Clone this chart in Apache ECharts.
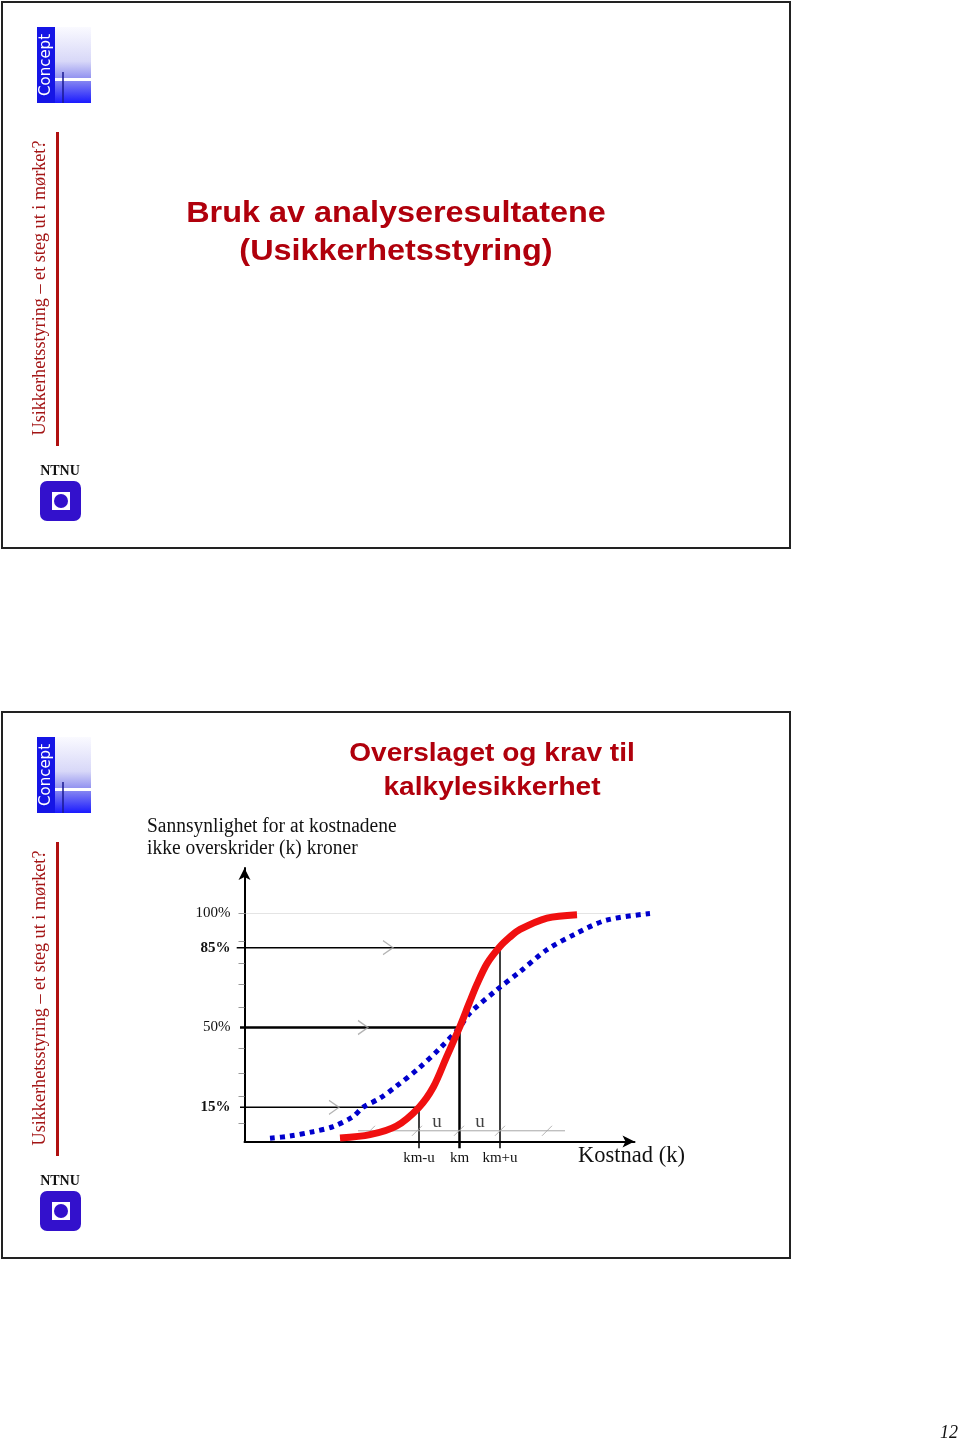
<!DOCTYPE html>
<html>
<head>
<meta charset="utf-8">
<script src="https://cdn.jsdelivr.net/npm/echarts@6/dist/echarts.min.js"></script>
<style>
html,body{margin:0;padding:0;background:#fff;}
#chart{width:960px;height:1442px;}
</style>
</head>
<body>
<div id="chart"></div>
<script>
// ---------- data ----------
const slide1Title = 'Bruk av analyseresultatene\n(Usikkerhetsstyring)';
const slide2Title = 'Overslaget og krav til\nkalkylesikkerhet';
const sideText = 'Usikkerhetsstyring – et steg ut i mørket?';
const yCaption = 'Sannsynlighet for at kostnadene\nikke overskrider (k) kroner';
const xName = 'Kostnad (k)';
const pageNumber = '12';

// probability (%) tick labels
const yLabelValues = [15, 50, 85, 100];
const yBoldValues = [15, 85];
const yMinorTicks = [8, 20, 30, 41, 59, 69, 78, 88, 100];

// cost axis markers (arbitrary cost units): km-u, km, km+u
const xMarkValues = [17.45, 21.5, 25.55];
const xMarkLabels = ['km-u', 'km', 'km+u'];

// narrow distribution (red) – cumulative probability %
const redX = [9.55, 12.55, 15.2, 17.45, 18.9, 20.2, 21.5, 22.5, 23.25, 24.25, 25.55, 26.5, 27.55, 30.25, 33.25];
const redY = [1.5, 3, 6.8, 15, 24, 37, 50, 61, 69, 78, 85.5, 89.5, 93, 98, 99.5];

// wide distribution (blue dotted) – cumulative probability %
const blueX = [2.55, 4.55, 6.85, 8.85, 10.85, 11.85, 13.55, 15.2, 17.4, 19.55, 21.5, 22.55, 25.2, 27.55, 30.2, 33.2, 36.2, 40.55];
const blueY = [1.4, 2.4, 4.3, 6.5, 10.9, 15, 19, 24.3, 32, 40.9, 50, 56.4, 66.4, 74.5, 84, 91.3, 97.1, 100];

// guide lines: level (%) and cost where they meet the red curve
const guideLevels = [85, 50, 15];
const guideCosts = [25.55, 21.5, 17.45];
const guideStartX = [-0.78, -0.45, -0.45];
const guideWidths = [1.5, 2.5, 1.5];
const chevronX = [14.35, 11.85, 8.95];

// u dimension line
const dimLevel = 4.7;
const dimStart = 11.35, dimEnd = 32.05;
const dimSlashX = [12.55, 17.25, 21.45, 25.55, 30.25];
const uLabelX = [19.25, 23.55];
const uLabelY = 8.6;

const topLineEnd = 40.55;

// ---------- build ----------
const chart = echarts.init(document.getElementById('chart'), null, {renderer: 'canvas'});
const serif = '"Liberation Serif", "Times New Roman", serif';
const sans = '"Liberation Sans", Arial, sans-serif';
const darkRed = '#b0000c';

function slideDecor(dy) {
  return [
    {type: 'rect', shape: {x: 2, y: 2 + dy, width: 788, height: 546}, style: {fill: 'none', stroke: '#222', lineWidth: 2}},
    // Concept logo
    {type: 'rect', shape: {x: 55, y: 27 + dy, width: 36, height: 76},
      style: {fill: new echarts.graphic.LinearGradient(0, 0, 0, 1, [
        {offset: 0, color: '#fafaff'}, {offset: 0.45, color: '#d8d8f8'},
        {offset: 0.68, color: '#9090f0'}, {offset: 1, color: '#1a1aff'}])}},
    {type: 'rect', shape: {x: 55, y: 78 + dy, width: 36, height: 3}, style: {fill: '#ffffff'}},
    {type: 'line', shape: {x1: 63, y1: 72 + dy, x2: 63, y2: 103 + dy}, style: {stroke: '#1a1a90', lineWidth: 1.5}},
    {type: 'rect', shape: {x: 37, y: 27 + dy, width: 18, height: 76}, style: {fill: '#1515e6'}},
    {type: 'text', x: 46, y: 65 + dy, rotation: Math.PI / 2,
      style: {text: 'Concept', font: '15px "DejaVu Sans", sans-serif', fill: '#ffffff', align: 'center', verticalAlign: 'middle'}},
    // red bar
    {type: 'rect', shape: {x: 56, y: 132 + dy, width: 3, height: 314}, style: {fill: '#b01010'}},
    {type: 'text', x: 40, y: 288 + dy, rotation: Math.PI / 2,
      style: {text: sideText, font: '18.2px ' + serif, fill: '#a31515', align: 'center', verticalAlign: 'middle'}},
    // NTNU logo
    {type: 'text', x: 60, y: 471 + dy,
      style: {text: 'NTNU', font: 'bold 14px ' + serif, fill: '#111', align: 'center', verticalAlign: 'middle'}},
    {type: 'rect', shape: {x: 40, y: 481 + dy, width: 41, height: 40, r: 7}, style: {fill: '#3311cc'}},
    {type: 'rect', shape: {x: 52, y: 492 + dy, width: 18, height: 18}, style: {fill: '#ffffff'}},
    {type: 'circle', shape: {cx: 61, cy: 501 + dy, r: 7}, style: {fill: '#3311cc'}}
  ];
}

const graphics = [].concat(slideDecor(0), slideDecor(710), [
  {type: 'text', x: 396, y: 233, scaleX: 1.08,
    style: {text: slide1Title, font: 'bold 30px ' + sans, fill: darkRed, align: 'center', verticalAlign: 'middle', lineHeight: 38}},
  {type: 'text', x: 492, y: 771, scaleX: 1.08,
    style: {text: slide2Title, font: 'bold 26px ' + sans, fill: darkRed, align: 'center', verticalAlign: 'middle', lineHeight: 34}},
  {type: 'text', x: 147, y: 838, scaleX: 0.975,
    style: {text: yCaption, font: '20px ' + serif, fill: '#111', align: 'left', verticalAlign: 'middle', lineHeight: 22}},
  {type: 'text', x: 958, y: 1433,
    style: {text: pageNumber, font: 'italic 18px ' + serif, fill: '#111', align: 'right', verticalAlign: 'middle'}}
]);

const zip = (xs, ys) => xs.map((x, i) => [x, ys[i]]);
const onData = {xAxisIndex: 1, yAxisIndex: 1};

const series = [];
// top dotted 100% line
series.push(Object.assign({type: 'line', data: [[0, 100], [topLineEnd, 100]], symbol: 'none', silent: true,
  lineStyle: {color: '#c8c8c8', width: 1, type: 'dotted'}, z: 1}, onData));
// guide lines
guideLevels.forEach((lv, i) => {
  series.push(Object.assign({type: 'line', data: [[guideStartX[i], lv], [guideCosts[i], lv], [guideCosts[i], -3]],
    symbol: 'none', silent: true, lineStyle: {color: '#000', width: guideWidths[i]}, z: 2}, onData));
});
// chevrons
series.push(Object.assign({type: 'scatter', data: zip(chevronX, guideLevels), symbol: 'path://M0,0L10,7L0,14', symbolSize: [10, 14],
  itemStyle: {color: 'rgba(0,0,0,0)', borderColor: '#a0a0a0', borderWidth: 1.2}, silent: true, z: 3}, onData));
// dimension line
series.push(Object.assign({type: 'line', data: [[dimStart, dimLevel], [dimEnd, dimLevel]], symbol: 'none', silent: true,
  lineStyle: {color: '#a8a8a8', width: 1}, z: 2}, onData));
series.push(Object.assign({type: 'scatter', data: dimSlashX.map(x => [x, dimLevel]), symbol: 'path://M0,10L10,0', symbolSize: [10, 10],
  itemStyle: {color: 'rgba(0,0,0,0)', borderColor: '#a0a0a0', borderWidth: 1}, silent: true, z: 3}, onData));
series.push(Object.assign({type: 'scatter', data: uLabelX.map(x => [x, uLabelY]), symbolSize: 0, silent: true, z: 4,
  label: {show: true, position: 'inside', formatter: 'u', fontFamily: serif, fontSize: 19, color: '#111'}}, onData));
// curves
series.push(Object.assign({type: 'line', data: zip(blueX, blueY), symbol: 'none', smooth: 0.3,
  lineStyle: {color: '#0000cc', width: 5, type: [5, 5], cap: 'butt'}, z: 5}, onData));
series.push(Object.assign({type: 'line', data: zip(redX, redY), symbol: 'none', smooth: 0.3,
  lineStyle: {color: '#f01010', width: 7}, z: 6}, onData));

const option = {
  animation: false,
  backgroundColor: '#ffffff',
  graphic: graphics,
  grid: [
    {left: 244.5, top: 867.9, width: 390, height: 273.6, containLabel: false},
    {left: 234.5, top: 867.9, width: 420, height: 282.72, containLabel: false}
  ],
  xAxis: [{
    gridIndex: 0, type: 'value', min: 0, max: 39,
    axisLine: {show: true, symbol: ['none', 'arrow'], symbolSize: [9, 12], lineStyle: {color: '#000', width: 2}},
    axisTick: {show: false},
    splitLine: {show: false},
    axisLabel: {customValues: xMarkValues, margin: 9, fontFamily: serif, fontSize: 15, color: '#111',
      formatter: v => xMarkLabels[xMarkValues.indexOf(v)]},
    name: xName, nameLocation: 'end', nameGap: -3,
    nameTextStyle: {fontFamily: serif, fontSize: 22.5, color: '#111', align: 'center', verticalAlign: 'top', padding: [3, 0, 0, 0]}
  }, {
    gridIndex: 1, type: 'value', min: -1, max: 41, show: false
  }],
  yAxis: [{
    gridIndex: 0, type: 'value', min: 0, max: 120,
    axisLine: {show: true, symbol: ['none', 'arrow'], symbolSize: [9, 12], lineStyle: {color: '#000', width: 2}},
    axisTick: {show: true, customValues: yMinorTicks, length: 6, lineStyle: {color: '#9a9a9a', width: 1}},
    splitLine: {show: false},
    axisLabel: {customValues: yLabelValues, margin: 14, fontFamily: serif, fontSize: 15, color: '#111',
      formatter: v => (yBoldValues.indexOf(v) >= 0 ? '{b|' + v + '%}' : '{n|' + v + '%}'),
      rich: {b: {fontFamily: serif, fontSize: 15, fontWeight: 'bold', color: '#111'},
             n: {fontFamily: serif, fontSize: 15, color: '#111'}}}
  }, {
    gridIndex: 1, type: 'value', min: -4, max: 120, show: false
  }],
  series: series
};
chart.setOption(option);
</script>
</body>
</html>
